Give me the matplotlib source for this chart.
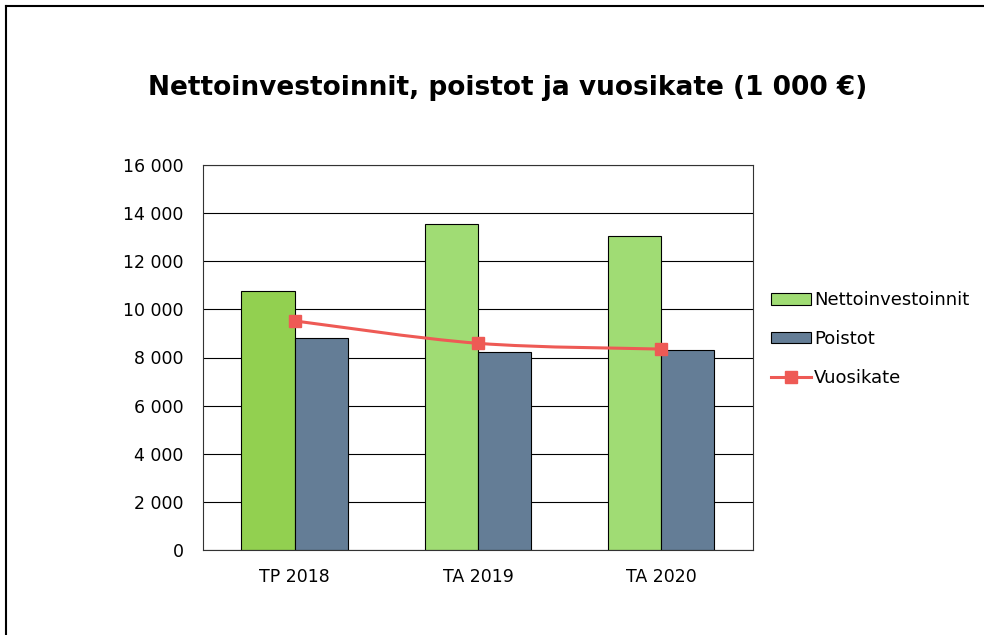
import matplotlib.pyplot as plt
import numpy as np
from matplotlib.lines import Line2D
from matplotlib.path import Path
from matplotlib.patches import PathPatch
from matplotlib.ticker import FuncFormatter

categories = ['TP 2018', 'TA 2019', 'TA 2020']
nettoinvestoinnit = [10760, 13550, 13050]
poistot = [8810, 8230, 8310]
vuosikate = [9520, 8590, 8350]

green_colors = ['#92D050', '#A0DC74', '#A0DC74']
blue = '#647D96'
red = '#EE5A55'

fig = plt.figure(figsize=(9.84, 6.35), dpi=100)
ax = fig.add_axes([203 / 984, 1 - 550 / 635, 550 / 984, 385 / 635])

x = np.arange(len(categories))
w = 0.29

ax.bar(x - w / 2, nettoinvestoinnit, w, color=green_colors, edgecolor='black',
       linewidth=0.8, zorder=2)
ax.bar(x + w / 2, poistot, w, color=blue, edgecolor='black', linewidth=0.8, zorder=2)

# smoothed line (Excel style) through the data points using bezier segments
pts = np.column_stack([x, vuosikate]).astype(float)
ext = np.vstack([pts[0], pts, pts[-1]])
verts = [tuple(pts[0])]
codes = [Path.MOVETO]
for i in range(len(pts) - 1):
    p0, p1, p2, p3 = ext[i], ext[i + 1], ext[i + 2], ext[i + 3]
    verts += [tuple(p1 + (p2 - p0) / 6), tuple(p2 - (p3 - p1) / 6), tuple(p2)]
    codes += [Path.CURVE4] * 3
ax.add_patch(PathPatch(Path(verts, codes), facecolor='none', edgecolor=red,
                       linewidth=2.2, zorder=3))
ax.plot(x, vuosikate, linestyle='none', marker='s', markersize=8.5, color=red, zorder=4)

ax.set_xlim(-0.5, 2.5)
ax.set_ylim(0, 16000)
ax.set_yticks(range(0, 16001, 2000))
ax.yaxis.set_major_formatter(FuncFormatter(lambda v, p: f'{int(v):,}'.replace(',', ' ')))
ax.set_xticks(x)
ax.set_xticklabels(categories)
ax.tick_params(axis='both', length=0, labelsize=12.5)
ax.tick_params(axis='x', pad=13)
ax.tick_params(axis='y', pad=14)
ax.grid(axis='y', color='black', linewidth=0.8, zorder=0)
for s in ax.spines.values():
    s.set_linewidth(0.8)
    s.set_color('#333333')

# legend
handles = [
    plt.Rectangle((0, 0), 1, 1, facecolor='#A0DC74', edgecolor='black', linewidth=0.8),
    plt.Rectangle((0, 0), 1, 1, facecolor=blue, edgecolor='black', linewidth=0.8),
    Line2D([0], [0], color=red, linewidth=2.2, marker='s', markersize=8.5),
]
fig.legend(handles, ['Nettoinvestoinnit', 'Poistot', 'Vuosikate'],
           loc='center left', bbox_to_anchor=(771 / 984, 1 - 339 / 635),
           frameon=False, fontsize=13, handlelength=2.2, handleheight=0.6,
           handletextpad=0.2, labelspacing=1.15, borderaxespad=0, borderpad=0)

fig.text(508 / 984, 1 - 88 / 635, 'Nettoinvestoinnit, poistot ja vuosikate (1 000 €)',
         ha='center', va='center', fontsize=19, fontweight='bold')

# chart frame (only top and left edges visible)
fig.add_artist(Line2D([6 / 984, 6 / 984], [0, 1 - 6 / 635], color='black', linewidth=1.5))
fig.add_artist(Line2D([6 / 984, 983 / 984], [1 - 6 / 635, 1 - 6 / 635], color='black', linewidth=1.5))

fig.savefig('out.png', dpi=100, facecolor='white')
